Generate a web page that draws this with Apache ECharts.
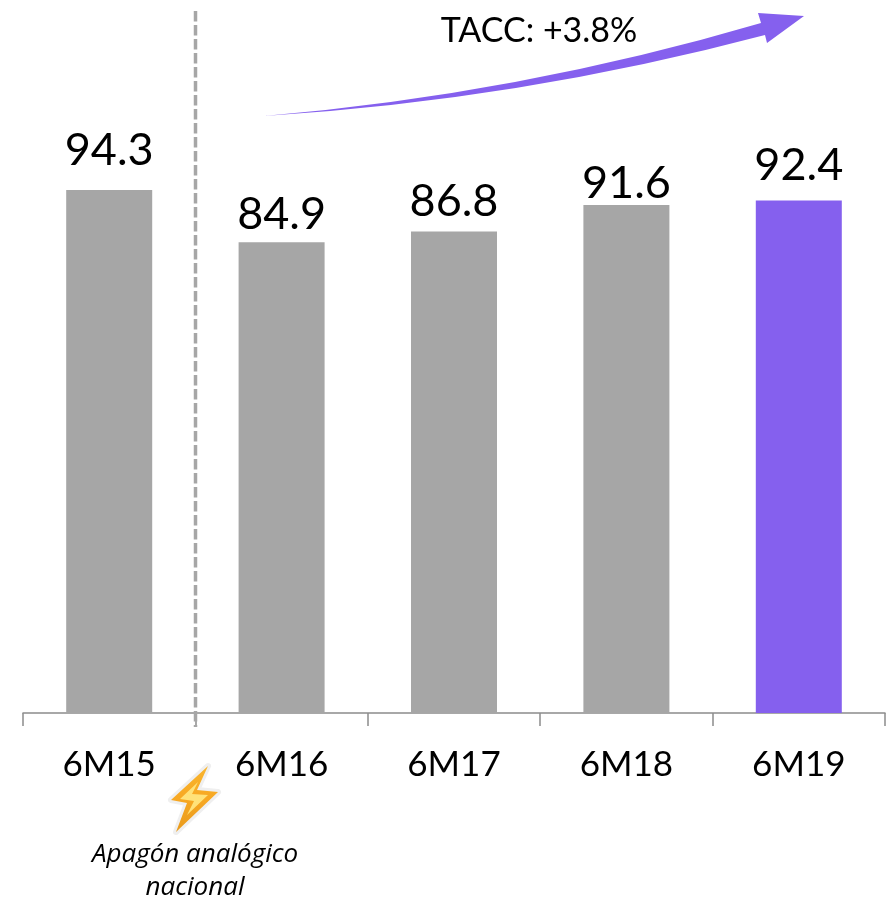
<!DOCTYPE html>
<html>
<head>
<meta charset="utf-8">
<style>html,body{margin:0;padding:0;background:#fff}#c{width:888px;height:899px}</style>
<script src="https://cdn.jsdelivr.net/npm/echarts@6/dist/echarts.min.js"></script>
</head>
<body>
<div id="c"></div>
<script>
const categories = ['6M15', '6M16', '6M17', '6M18', '6M19'];
const values = [94.3, 84.9, 86.8, 91.6, 92.4];
const GRAY = '#A6A6A6', PURPLE = '#8560EE';
const barColors = [GRAY, GRAY, GRAY, GRAY, PURPLE];
const labelGaps = [17, 5, 8, -1, 13];

echarts.graphic.registerShape('taccArrow', echarts.graphic.extendPath(
  'M264,116 Q520,94 761,23 L758,13 L804,16 L767,43 L765,35 Q520,100 264,116 Z'));

const boltOuter = [[208,766],[171,800],[187,803],[176,832],[218,792],[197,790]];
const boltInner = [[198,782],[180,799],[194,801],[187,815],[208,795],[192,794]];

const chart = echarts.init(document.getElementById('c'), null, {renderer: 'canvas'});
chart.setOption({
  animation: false,
  backgroundColor: '#fff',
  grid: {left: 23, right: 3, top: 158.4, bottom: 186},
  xAxis: {
    type: 'category',
    data: categories,
    axisLine: {lineStyle: {color: '#8C8C8C', width: 1.5}},
    axisTick: {show: true, alignWithLabel: false, length: 13, lineStyle: {color: '#8C8C8C', width: 1.5}},
    axisLabel: {margin: 34, fontFamily: 'Lato', fontSize: 35, color: '#000'}
  },
  yAxis: {type: 'value', min: 0, max: 100, show: false},
  series: [{
    type: 'bar',
    barWidth: 86,
    data: values.map((v, i) => ({
      value: v,
      itemStyle: {color: barColors[i]},
      label: {distance: labelGaps[i]}
    })),
    label: {
      show: true, position: 'top',
      fontFamily: 'Lato', fontSize: 45, color: '#000',
      formatter: p => p.value.toFixed(1)
    }
  }],
  graphic: [
    {type: 'line', z: 10, shape: {x1: 195.5, y1: 11, x2: 195.5, y2: 727},
     style: {stroke: GRAY, lineWidth: 3.5, lineDash: [10.5, 3.5]}},
    {type: 'taccArrow', z: 10, style: {fill: PURPLE}},
    {type: 'text', z: 10, style: {text: 'TACC: +3.8%', x: 539, y: 31, align: 'center', verticalAlign: 'middle',
      fontFamily: 'Lato', fontSize: 34, fill: '#000'}},
    {type: 'polygon', z: 9, shape: {points: boltOuter},
     style: {fill: '#EFEFEF', stroke: '#EFEFEF', lineWidth: 6, lineJoin: 'round'}},
    {type: 'polygon', z: 10, shape: {points: boltOuter},
     style: {
       fill: new echarts.graphic.LinearGradient(0, 0, 0, 1, [
         {offset: 0, color: '#F9B52E'}, {offset: 0.5, color: '#F7A823'}, {offset: 1, color: '#E89A1C'}
       ])
     }},
    {type: 'polygon', z: 11, shape: {points: boltInner},
     style: {fill: '#FFE27A'}},
    {type: 'text', z: 10, style: {text: 'Apagón analógico', x: 195, y: 855, align: 'center', verticalAlign: 'middle',
      fontFamily: 'Open Sans', fontStyle: 'italic', fontSize: 26, fill: '#000'}},
    {type: 'text', z: 10, style: {text: 'nacional', x: 195, y: 888, align: 'center', verticalAlign: 'middle',
      fontFamily: 'Open Sans', fontStyle: 'italic', fontSize: 26, fill: '#000'}}
  ]
});
</script>
</body>
</html>
